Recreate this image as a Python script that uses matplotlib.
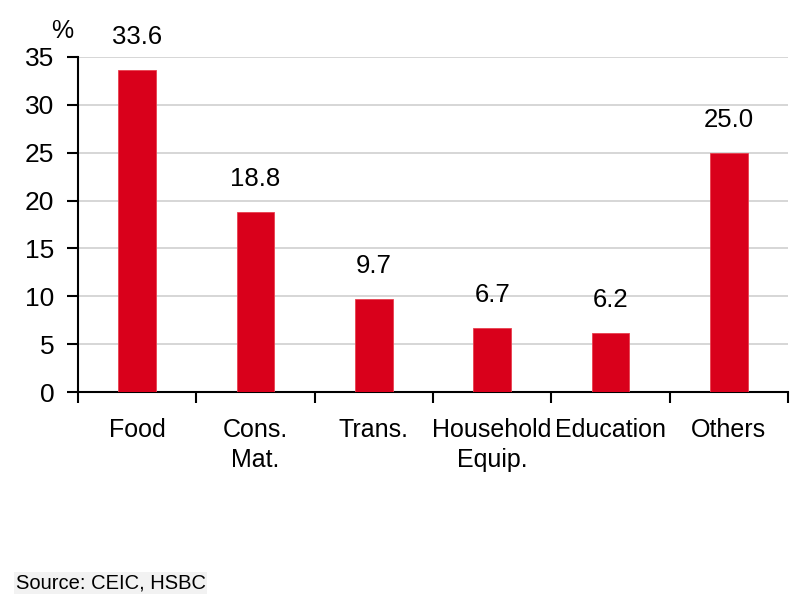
import numpy as np
import matplotlib.pyplot as plt

# Data
categories = ['Food', 'Cons.\nMat.', 'Trans.', 'Household\nEquip.', 'Education', 'Others']
shares = [33.6, 18.8, 9.7, 6.7, 6.2, 25.0]

plt.rcParams['font.family'] = ['Liberation Sans', 'DejaVu Sans']

fig = plt.figure(figsize=(7.9, 6.05), dpi=100)
ax = fig.add_axes([0.0987, 0.352, 0.8988, 0.554])

x = np.arange(len(categories))
bars = ax.bar(x, shares, width=0.32, color='#D9001B', edgecolor='#E8404F', linewidth=0.6, zorder=3)

for xi, v in zip(x, shares):
    ax.text(xi, v + 2.2, f'{v:.1f}', ha='center', va='bottom', fontsize=18.5)

ax.set_xlim(-0.5, len(categories) - 0.5)
ax.set_ylim(0, 35)
ax.set_yticks(np.arange(0, 36, 5))
ax.yaxis.grid(True, color='#d6d6d6', linewidth=1.4, zorder=0)
ax.set_axisbelow(True)

# category labels centred, tick marks on category boundaries
ax.set_xticks(x)
ax.set_xticklabels(categories, fontsize=18, linespacing=1.3)
ax.tick_params(axis='x', length=0, pad=19)
ax.set_xticks(np.arange(-0.5, len(categories)), minor=True)
ax.tick_params(axis='x', which='minor', length=8, width=1.5, direction='out')
ax.tick_params(axis='y', labelsize=19, length=8, width=1.5, direction='out', pad=9)

for side in ['top', 'right']:
    ax.spines[side].set_visible(False)
for side in ['left', 'bottom']:
    ax.spines[side].set_linewidth(1.5)

fig.text(0.079, 0.948, '%', fontsize=18, ha='center', va='center')
fig.text(0.02, 0.036, 'Source: CEIC, HSBC', fontsize=14.5, ha='left', va='center',
         bbox=dict(facecolor='#f2f2f2', edgecolor='none', pad=1))

fig.savefig('out.png', dpi=100)
